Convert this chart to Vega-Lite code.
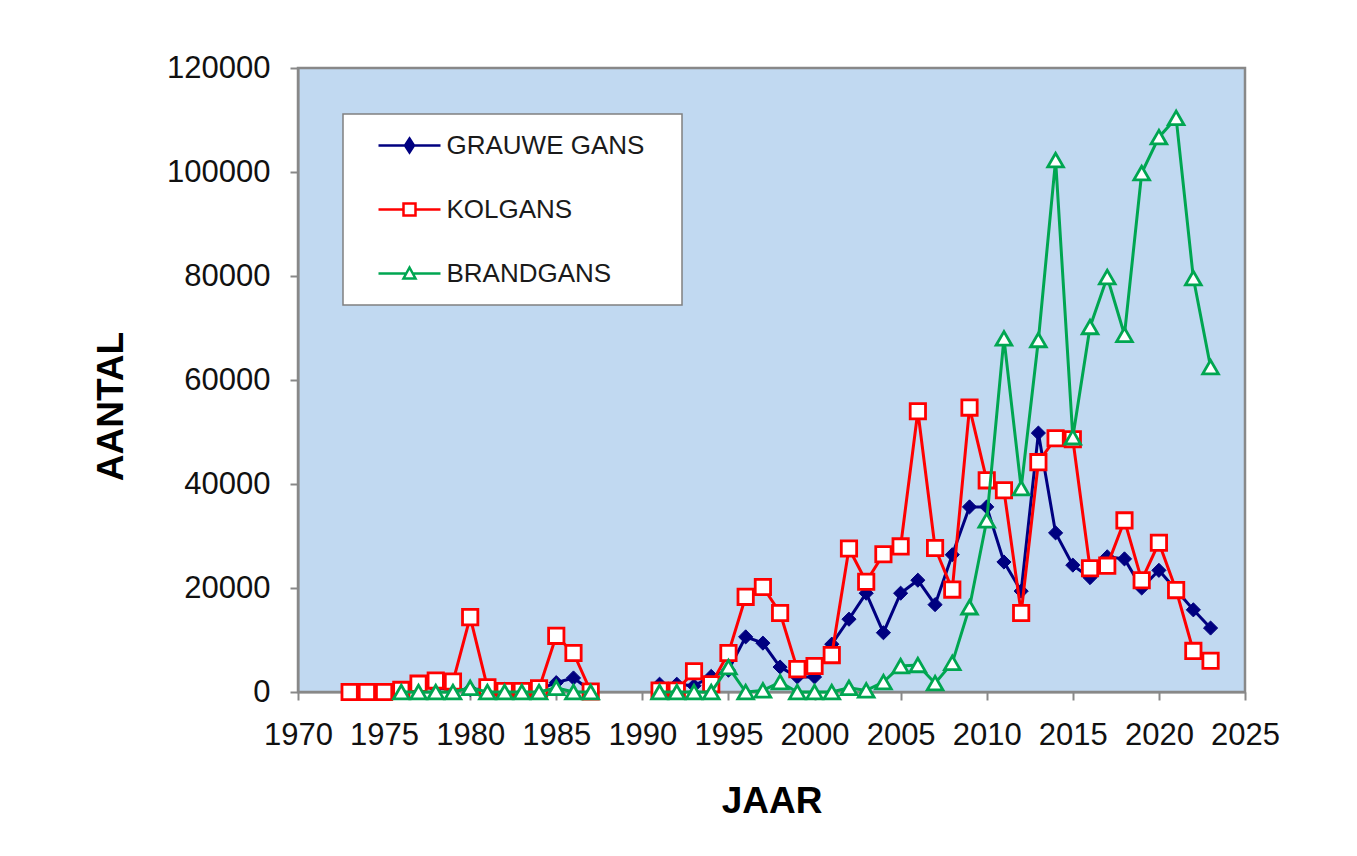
{
  "$schema": "https://vega.github.io/schema/vega-lite/v6.json",
  "width": 947,
  "height": 624,
  "autosize": {"type": "none"},
  "padding": {"left": 298, "top": 68, "right": 112, "bottom": 164},
  "background": "white",
  "config": {
    "font": "Liberation Sans",
    "view": {"fill": "#C1D9F1", "stroke": "#888888", "strokeWidth": 2.5},
    "axis": {
      "grid": false,
      "domainColor": "#888888",
      "domainWidth": 2,
      "tickColor": "#888888",
      "tickWidth": 2,
      "tickSize": 8,
      "labelFont": "Liberation Sans",
      "labelFontSize": 31,
      "labelColor": "#111111",
      "labelOverlap": false,
      "labelFlush": false,
      "titleFont": "Liberation Sans",
      "titleFontSize": 37,
      "titleFontWeight": "bold",
      "titleColor": "#000000"
    }
  },
  "data": {
    "values": [
      {"jaar": 1976, "soort": "GRAUWE GANS", "aantal": 300},
      {"jaar": 1977, "soort": "GRAUWE GANS", "aantal": 1500},
      {"jaar": 1978, "soort": "GRAUWE GANS", "aantal": 800},
      {"jaar": 1979, "soort": "GRAUWE GANS", "aantal": 500},
      {"jaar": 1980, "soort": "GRAUWE GANS", "aantal": 500},
      {"jaar": 1981, "soort": "GRAUWE GANS", "aantal": 600},
      {"jaar": 1982, "soort": "GRAUWE GANS", "aantal": 500},
      {"jaar": 1983, "soort": "GRAUWE GANS", "aantal": 400},
      {"jaar": 1984, "soort": "GRAUWE GANS", "aantal": 500},
      {"jaar": 1985, "soort": "GRAUWE GANS", "aantal": 1800},
      {"jaar": 1986, "soort": "GRAUWE GANS", "aantal": 2700},
      {"jaar": 1987, "soort": "GRAUWE GANS", "aantal": 300},
      {"jaar": 1988, "soort": "GRAUWE GANS", "aantal": null},
      {"jaar": 1991, "soort": "GRAUWE GANS", "aantal": 1500},
      {"jaar": 1992, "soort": "GRAUWE GANS", "aantal": 1500},
      {"jaar": 1993, "soort": "GRAUWE GANS", "aantal": 1200},
      {"jaar": 1994, "soort": "GRAUWE GANS", "aantal": 3000},
      {"jaar": 1995, "soort": "GRAUWE GANS", "aantal": 4200},
      {"jaar": 1996, "soort": "GRAUWE GANS", "aantal": 10600},
      {"jaar": 1997, "soort": "GRAUWE GANS", "aantal": 9400},
      {"jaar": 1998, "soort": "GRAUWE GANS", "aantal": 4800},
      {"jaar": 1999, "soort": "GRAUWE GANS", "aantal": 2900},
      {"jaar": 2000, "soort": "GRAUWE GANS", "aantal": 2900},
      {"jaar": 2001, "soort": "GRAUWE GANS", "aantal": 9200},
      {"jaar": 2002, "soort": "GRAUWE GANS", "aantal": 14000},
      {"jaar": 2003, "soort": "GRAUWE GANS", "aantal": 19000},
      {"jaar": 2004, "soort": "GRAUWE GANS", "aantal": 11400},
      {"jaar": 2005, "soort": "GRAUWE GANS", "aantal": 19000},
      {"jaar": 2006, "soort": "GRAUWE GANS", "aantal": 21500},
      {"jaar": 2007, "soort": "GRAUWE GANS", "aantal": 16800},
      {"jaar": 2008, "soort": "GRAUWE GANS", "aantal": 26400},
      {"jaar": 2009, "soort": "GRAUWE GANS", "aantal": 35600},
      {"jaar": 2010, "soort": "GRAUWE GANS", "aantal": 35600},
      {"jaar": 2011, "soort": "GRAUWE GANS", "aantal": 25000},
      {"jaar": 2012, "soort": "GRAUWE GANS", "aantal": 19400},
      {"jaar": 2013, "soort": "GRAUWE GANS", "aantal": 49800},
      {"jaar": 2014, "soort": "GRAUWE GANS", "aantal": 30600},
      {"jaar": 2015, "soort": "GRAUWE GANS", "aantal": 24400},
      {"jaar": 2016, "soort": "GRAUWE GANS", "aantal": 22000},
      {"jaar": 2017, "soort": "GRAUWE GANS", "aantal": 26000},
      {"jaar": 2018, "soort": "GRAUWE GANS", "aantal": 25600},
      {"jaar": 2019, "soort": "GRAUWE GANS", "aantal": 20000},
      {"jaar": 2020, "soort": "GRAUWE GANS", "aantal": 23400},
      {"jaar": 2021, "soort": "GRAUWE GANS", "aantal": 19600},
      {"jaar": 2022, "soort": "GRAUWE GANS", "aantal": 15800},
      {"jaar": 2023, "soort": "GRAUWE GANS", "aantal": 12300},

      {"jaar": 1973, "soort": "KOLGANS", "aantal": 0},
      {"jaar": 1974, "soort": "KOLGANS", "aantal": 0},
      {"jaar": 1975, "soort": "KOLGANS", "aantal": 0},
      {"jaar": 1976, "soort": "KOLGANS", "aantal": 400},
      {"jaar": 1977, "soort": "KOLGANS", "aantal": 1600},
      {"jaar": 1978, "soort": "KOLGANS", "aantal": 2200},
      {"jaar": 1979, "soort": "KOLGANS", "aantal": 2000},
      {"jaar": 1980, "soort": "KOLGANS", "aantal": 14400},
      {"jaar": 1981, "soort": "KOLGANS", "aantal": 900},
      {"jaar": 1982, "soort": "KOLGANS", "aantal": 200},
      {"jaar": 1983, "soort": "KOLGANS", "aantal": 200},
      {"jaar": 1984, "soort": "KOLGANS", "aantal": 700},
      {"jaar": 1985, "soort": "KOLGANS", "aantal": 10800},
      {"jaar": 1986, "soort": "KOLGANS", "aantal": 7500},
      {"jaar": 1987, "soort": "KOLGANS", "aantal": 100},
      {"jaar": 1988, "soort": "KOLGANS", "aantal": null},
      {"jaar": 1991, "soort": "KOLGANS", "aantal": 300},
      {"jaar": 1992, "soort": "KOLGANS", "aantal": 300},
      {"jaar": 1993, "soort": "KOLGANS", "aantal": 4000},
      {"jaar": 1994, "soort": "KOLGANS", "aantal": 1500},
      {"jaar": 1995, "soort": "KOLGANS", "aantal": 7500},
      {"jaar": 1996, "soort": "KOLGANS", "aantal": 18300},
      {"jaar": 1997, "soort": "KOLGANS", "aantal": 20200},
      {"jaar": 1998, "soort": "KOLGANS", "aantal": 15200},
      {"jaar": 1999, "soort": "KOLGANS", "aantal": 4400},
      {"jaar": 2000, "soort": "KOLGANS", "aantal": 5000},
      {"jaar": 2001, "soort": "KOLGANS", "aantal": 7100},
      {"jaar": 2002, "soort": "KOLGANS", "aantal": 27600},
      {"jaar": 2003, "soort": "KOLGANS", "aantal": 21200},
      {"jaar": 2004, "soort": "KOLGANS", "aantal": 26500},
      {"jaar": 2005, "soort": "KOLGANS", "aantal": 28000},
      {"jaar": 2006, "soort": "KOLGANS", "aantal": 54000},
      {"jaar": 2007, "soort": "KOLGANS", "aantal": 27700},
      {"jaar": 2008, "soort": "KOLGANS", "aantal": 19700},
      {"jaar": 2009, "soort": "KOLGANS", "aantal": 54700},
      {"jaar": 2010, "soort": "KOLGANS", "aantal": 40700},
      {"jaar": 2011, "soort": "KOLGANS", "aantal": 38800},
      {"jaar": 2012, "soort": "KOLGANS", "aantal": 15200},
      {"jaar": 2013, "soort": "KOLGANS", "aantal": 44200},
      {"jaar": 2014, "soort": "KOLGANS", "aantal": 48800},
      {"jaar": 2015, "soort": "KOLGANS", "aantal": 48600},
      {"jaar": 2016, "soort": "KOLGANS", "aantal": 23800},
      {"jaar": 2017, "soort": "KOLGANS", "aantal": 24300},
      {"jaar": 2018, "soort": "KOLGANS", "aantal": 33000},
      {"jaar": 2019, "soort": "KOLGANS", "aantal": 21500},
      {"jaar": 2020, "soort": "KOLGANS", "aantal": 28700},
      {"jaar": 2021, "soort": "KOLGANS", "aantal": 19600},
      {"jaar": 2022, "soort": "KOLGANS", "aantal": 7900},
      {"jaar": 2023, "soort": "KOLGANS", "aantal": 6000},

      {"jaar": 1976, "soort": "BRANDGANS", "aantal": 0},
      {"jaar": 1977, "soort": "BRANDGANS", "aantal": 0},
      {"jaar": 1978, "soort": "BRANDGANS", "aantal": 0},
      {"jaar": 1979, "soort": "BRANDGANS", "aantal": 0},
      {"jaar": 1980, "soort": "BRANDGANS", "aantal": 800},
      {"jaar": 1981, "soort": "BRANDGANS", "aantal": 0},
      {"jaar": 1982, "soort": "BRANDGANS", "aantal": 0},
      {"jaar": 1983, "soort": "BRANDGANS", "aantal": 0},
      {"jaar": 1984, "soort": "BRANDGANS", "aantal": 0},
      {"jaar": 1985, "soort": "BRANDGANS", "aantal": 800},
      {"jaar": 1986, "soort": "BRANDGANS", "aantal": 0},
      {"jaar": 1987, "soort": "BRANDGANS", "aantal": 0},
      {"jaar": 1988, "soort": "BRANDGANS", "aantal": null},
      {"jaar": 1991, "soort": "BRANDGANS", "aantal": 0},
      {"jaar": 1992, "soort": "BRANDGANS", "aantal": 0},
      {"jaar": 1993, "soort": "BRANDGANS", "aantal": 0},
      {"jaar": 1994, "soort": "BRANDGANS", "aantal": 0},
      {"jaar": 1995, "soort": "BRANDGANS", "aantal": 4800},
      {"jaar": 1996, "soort": "BRANDGANS", "aantal": 0},
      {"jaar": 1997, "soort": "BRANDGANS", "aantal": 300},
      {"jaar": 1998, "soort": "BRANDGANS", "aantal": 1900},
      {"jaar": 1999, "soort": "BRANDGANS", "aantal": 0},
      {"jaar": 2000, "soort": "BRANDGANS", "aantal": 0},
      {"jaar": 2001, "soort": "BRANDGANS", "aantal": 0},
      {"jaar": 2002, "soort": "BRANDGANS", "aantal": 800},
      {"jaar": 2003, "soort": "BRANDGANS", "aantal": 300},
      {"jaar": 2004, "soort": "BRANDGANS", "aantal": 1900},
      {"jaar": 2005, "soort": "BRANDGANS", "aantal": 5000},
      {"jaar": 2006, "soort": "BRANDGANS", "aantal": 5200},
      {"jaar": 2007, "soort": "BRANDGANS", "aantal": 1700},
      {"jaar": 2008, "soort": "BRANDGANS", "aantal": 5600},
      {"jaar": 2009, "soort": "BRANDGANS", "aantal": 16300},
      {"jaar": 2010, "soort": "BRANDGANS", "aantal": 33000},
      {"jaar": 2011, "soort": "BRANDGANS", "aantal": 68000},
      {"jaar": 2012, "soort": "BRANDGANS", "aantal": 39200},
      {"jaar": 2013, "soort": "BRANDGANS", "aantal": 67700},
      {"jaar": 2014, "soort": "BRANDGANS", "aantal": 102300},
      {"jaar": 2015, "soort": "BRANDGANS", "aantal": 49000},
      {"jaar": 2016, "soort": "BRANDGANS", "aantal": 70200},
      {"jaar": 2017, "soort": "BRANDGANS", "aantal": 79800},
      {"jaar": 2018, "soort": "BRANDGANS", "aantal": 68700},
      {"jaar": 2019, "soort": "BRANDGANS", "aantal": 99800},
      {"jaar": 2020, "soort": "BRANDGANS", "aantal": 106700},
      {"jaar": 2021, "soort": "BRANDGANS", "aantal": 110400},
      {"jaar": 2022, "soort": "BRANDGANS", "aantal": 79600},
      {"jaar": 2023, "soort": "BRANDGANS", "aantal": 62500}
    ]
  },
  "encoding": {
    "x": {
      "field": "jaar",
      "type": "quantitative",
      "scale": {"domain": [1970, 2025], "nice": false, "zero": false},
      "axis": {
        "title": "JAAR",
        "values": [1970, 1975, 1980, 1985, 1990, 1995, 2000, 2005, 2010, 2015, 2020, 2025],
        "format": "d",
        "labelPadding": 20,
        "titleBaseline": "alphabetic",
        "titleY": 120
      }
    },
    "y": {
      "field": "aantal",
      "type": "quantitative",
      "scale": {"domain": [0, 120000], "nice": false},
      "axis": {
        "title": "AANTAL",
        "values": [0, 20000, 40000, 60000, 80000, 100000, 120000],
        "format": "d",
        "labelPadding": 20,
        "titleBaseline": "alphabetic",
        "titleAngle": -90,
        "titleX": -176,
        "titleY": 338
      }
    }
  },
  "layer": [
    {
      "transform": [{"filter": "datum.soort === 'GRAUWE GANS'"}],
      "mark": {"type": "line", "strokeWidth": 3, "invalid": "break-paths-filter-domains"},
      "encoding": {
        "color": {
          "field": "soort",
          "type": "nominal",
          "scale": {"domain": ["GRAUWE GANS", "KOLGANS", "BRANDGANS"], "range": ["#000080", "#FF0000", "#00A651"]},
          "legend": {
            "title": null,
            "orient": "none",
            "legendX": 45,
            "legendY": 46,
            "fillColor": "#FFFFFF",
            "strokeColor": "#808080",
            "padding": 18.5,
            "rowPadding": 38,
            "symbolSize": 400,
            "symbolStrokeWidth": 2.5,
            "symbolOffset": 35,
            "labelOffset": 24,
            "labelLimit": 400,
            "labelFont": "Liberation Sans",
            "labelFontSize": 26,
            "labelColor": "#1A1A1A",
            "encode": {
              "legend": {"update": {"strokeWidth": {"value": 1.5}}},
              "symbols": {
                "update": {
                  "shape": [
                    {"test": "datum.value === 'GRAUWE GANS'", "value": "M-3.1,0H3.1M0,-0.7L0.45,0L0,0.7L-0.45,0ZM24.9,0"},
                    {"test": "datum.value === 'KOLGANS'", "value": "M-3.1,0H-0.6M0.6,0H3.1M-0.6,-0.6H0.6V0.6H-0.6ZM24.9,0"},
                    {"value": "M-3.1,0H-0.31M0.31,0H3.1M0,-0.6L0.6,0.5H-0.6ZM24.9,0"}
                  ],
                  "fill": [
                    {"test": "datum.value === 'GRAUWE GANS'", "value": "#000080"},
                    {"value": "#FFFFFF"}
                  ],
                  "fillOpacity": {"value": 1}
                }
              }
            }
          }
        }
      }
    },
    {
      "transform": [{"filter": "datum.soort === 'GRAUWE GANS'"}],
      "mark": {"type": "point", "shape": "diamond", "filled": true, "fill": "#000080", "stroke": "#000080", "strokeWidth": 1, "size": 200, "opacity": 1}
    },
    {
      "transform": [{"filter": "datum.soort === 'KOLGANS'"}],
      "mark": {"type": "line", "strokeWidth": 3, "invalid": "break-paths-filter-domains"},
      "encoding": {"color": {"field": "soort", "type": "nominal"}}
    },
    {
      "transform": [{"filter": "datum.soort === 'KOLGANS'"}],
      "mark": {"type": "point", "shape": "square", "filled": false, "fill": "#FFFFFF", "fillOpacity": 1, "stroke": "#FF0000", "strokeWidth": 2.8, "size": 235, "opacity": 1}
    },
    {
      "transform": [{"filter": "datum.soort === 'BRANDGANS'"}],
      "mark": {"type": "line", "strokeWidth": 3, "invalid": "break-paths-filter-domains"},
      "encoding": {"color": {"field": "soort", "type": "nominal"}}
    },
    {
      "transform": [{"filter": "datum.soort === 'BRANDGANS'"}],
      "mark": {"type": "point", "shape": "triangle-up", "filled": false, "fill": "#FFFFFF", "fillOpacity": 1, "stroke": "#00A651", "strokeWidth": 2.8, "size": 245, "opacity": 1}
    }
  ]
}
